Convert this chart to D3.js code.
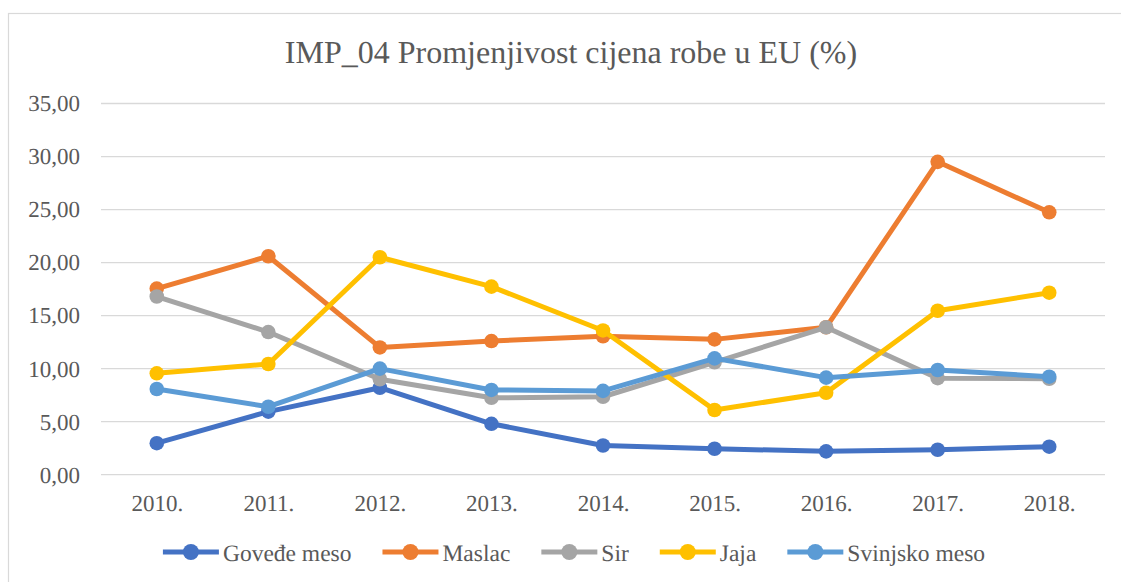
<!DOCTYPE html>
<html>
<head>
<meta charset="utf-8">
<script src="https://cdn.jsdelivr.net/npm/d3@7"></script>
<style>
  body { margin: 0; background: #fff; }
</style>
</head>
<body>
<svg id="chart" width="1121" height="582"></svg>
<script>
const years = ['2010.', '2011.', '2012.', '2013.', '2014.', '2015.', '2016.', '2017.', '2018.']
const yTicks = [0, 5, 10, 15, 20, 25, 30, 35]
const names = ['Goveđe meso', 'Maslac', 'Sir', 'Jaja', 'Svinjsko meso']
const colors = ['#4472C4', '#ED7D31', '#A5A5A5', '#FFC000', '#5B9BD5']

const govedje = [2.97, 5.95, 8.2, 4.8, 2.75, 2.45, 2.2, 2.35, 2.64]
const maslac = [17.55, 20.6, 12.0, 12.6, 13.05, 12.76, 13.9, 29.5, 24.74]
const sir = [16.8, 13.45, 9.0, 7.25, 7.35, 10.6, 13.9, 9.1, 9.05]
const jaja = [9.56, 10.44, 20.5, 17.73, 13.6, 6.1, 7.73, 15.46, 17.16]
const svinjsko = [8.08, 6.41, 10.0, 7.99, 7.9, 10.97, 9.15, 9.87, 9.24]
const series = [govedje, maslac, sir, jaja, svinjsko]

const font = 'Liberation Serif'
const grey = '#595959'
const plotLeft = 101
const plotRight = 1105
const plotTop = 103.5
const plotBottom = 474.7

const svg = d3.select('#chart')

// chart frame
svg.append('rect')
  .attr('x', 8.5).attr('y', 13.5)
  .attr('width', 1130).attr('height', 600)
  .attr('fill', 'none').attr('stroke', '#d9d9d9').attr('stroke-width', 1.2)

const x = d3.scalePoint().domain(years).range([plotLeft, plotRight]).padding(0.5)
const y = d3.scaleLinear().domain([0, 35]).range([plotBottom, plotTop])

// gridlines
svg.append('g')
  .selectAll('line')
  .data(yTicks)
  .enter()
  .append('line')
  .attr('x1', plotLeft).attr('x2', plotRight)
  .attr('y1', d => y(d)).attr('y2', d => y(d))
  .attr('stroke', '#d9d9d9').attr('stroke-width', 1.3)

const yAxis = d3.axisLeft(y).tickValues(yTicks).tickSize(0).tickPadding(21)
  .tickFormat(d => d3.format('.2f')(d).replace('.', ','))
svg.append('g')
  .attr('transform', `translate(${plotLeft}, 0)`)
  .call(yAxis)
  .attr('font-family', font).attr('font-size', 23)
  .call(g => g.select('.domain').remove())
  .selectAll('text')
  .attr('font-family', font).attr('font-size', 23).attr('fill', grey)
  .attr('text-rendering', 'geometricPrecision')

const xAxis = d3.axisBottom(x).tickSize(0).tickPadding(20)
svg.append('g')
  .attr('transform', `translate(0, ${plotBottom})`)
  .call(xAxis)
  .attr('font-family', font).attr('font-size', 23)
  .call(g => g.select('.domain').remove())
  .selectAll('text')
  .attr('font-family', font).attr('font-size', 23).attr('fill', grey)
  .attr('text-rendering', 'geometricPrecision')

const line = d3.line().x((d, i) => x(years[i])).y(d => y(d))

series.forEach((s, k) => {
  const g = svg.append('g')
  g.append('path')
    .datum(s)
    .attr('d', line)
    .attr('fill', 'none')
    .attr('stroke', colors[k])
    .attr('stroke-width', 5)
    .attr('stroke-linejoin', 'round')
  g.selectAll('circle')
    .data(s)
    .enter()
    .append('circle')
    .attr('cx', (d, i) => x(years[i]))
    .attr('cy', d => y(d))
    .attr('r', 7.3)
    .attr('fill', colors[k])
})

svg.append('text')
  .text('IMP_04 Promjenjivost cijena robe u EU (%)')
  .attr('x', 571).attr('y', 63)
  .attr('text-anchor', 'middle')
  .attr('font-family', font).attr('font-size', 32).attr('fill', grey)
  .attr('text-rendering', 'geometricPrecision')

// legend
const legend = svg.append('g')
let pos = 0
names.forEach((n, k) => {
  const g = legend.append('g')
  g.append('line')
    .attr('x1', 0).attr('x2', 56).attr('y1', 0).attr('y2', 0)
    .attr('stroke', colors[k]).attr('stroke-width', 5)
  g.append('circle').attr('cx', 28).attr('cy', 0).attr('r', 8).attr('fill', colors[k])
  const t = g.append('text').text(n).attr('x', 60).attr('y', 8.5)
    .attr('font-family', font).attr('font-size', 23.5).attr('fill', grey)
    .attr('text-rendering', 'geometricPrecision')
  const w = 60 + t.node().getComputedTextLength()
  g.attr('transform', `translate(${pos}, 552)`)
  pos += w + 31
})
const total = pos - 31
legend.attr('transform', `translate(${574 - total / 2}, 0)`)
</script>
</body>
</html>
